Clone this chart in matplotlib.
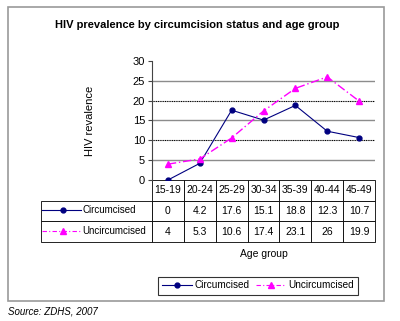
import numpy as np
import matplotlib
matplotlib.use('Agg')
import matplotlib.pyplot as plt
from matplotlib.lines import Line2D
from matplotlib.patches import Rectangle

# data
age_groups = ['15-19', '20-24', '25-29', '30-34', '35-39', '40-44', '45-49']
circumcised = [0, 4.2, 17.6, 15.1, 18.8, 12.3, 10.7]
uncircumcised = [4, 5.3, 10.6, 17.4, 23.1, 26, 19.9]
y_ticks = [0, 5, 10, 15, 20, 25, 30]

NARROW = ['Liberation Sans Narrow', 'Liberation Sans', 'DejaVu Sans']
plt.rcParams['font.family'] = NARROW

C_COL = '#000080'
U_COL = '#FF00FF'

fig = plt.figure(figsize=(4.0, 3.21), dpi=100)
W, H = 400.0, 321.0

# outer frame
fig.patches.append(Rectangle((8 / W, 1 - 301 / H), 376 / W, 294 / H,
                             transform=fig.transFigure, fill=False,
                             edgecolor='#9a9a9a', linewidth=1.2))

fig.text(197 / W, 1 - 25 / H, 'HIV prevalence by circumcision status and age group',
         ha='center', va='center', fontsize=8, fontweight='bold')

ax = fig.add_axes([152 / W, 1 - 180 / H, 223 / W, 119 / H])
x = np.arange(len(age_groups))
ax.plot(x, circumcised, color=C_COL, lw=0.8, marker='o', ms=3.5, zorder=3)
ax.plot(x, uncircumcised, color=U_COL, lw=1.0, ls=(0, (6, 2, 1, 2)),
        marker='^', ms=4.5, zorder=3)

ax.set_xlim(-0.5, len(age_groups) - 0.5)
ax.set_ylim(0, 30)
ax.set_yticks(y_ticks)
ax.set_xticks([])
for yv in y_ticks[1:-1]:
    if yv % 10 == 0:
        ax.axhline(yv, color='black', lw=0.8, ls=(0, (1, 0.6)), zorder=1)
    else:
        ax.axhline(yv, color='#8c8c8c', lw=1.0, zorder=1)
for s in ['top', 'right', 'bottom']:
    ax.spines[s].set_visible(False)
ax.spines['left'].set_color('#444444')
ax.spines['left'].set_linewidth(0.8)
ax.tick_params(axis='y', length=3, width=0.8, color='#444444', labelsize=8, pad=2)
ax.set_ylabel('HIV revalence', fontsize=8, labelpad=2)
ax.yaxis.set_label_coords(-0.256, 0.5)

# data table under the axes
rows = [[''] + age_groups,
        [''] + [f'{v:g}' for v in circumcised],
        [''] + [f'{v:g}' for v in uncircumcised]]
first_w = 111.0
col_w = [first_w] + [223.0 / len(age_groups)] * len(age_groups)
tbl = ax.table(cellText=rows, colWidths=[c / sum(col_w) for c in col_w],
               cellLoc='center', bbox=[-111 / 223, -62 / 119, 334 / 223, 62 / 119])
tbl.auto_set_font_size(False)
tbl.set_fontsize(7.5)
for (r, c), cell in tbl.get_celld().items():
    cell.set_edgecolor('black')
    cell.set_linewidth(0.6)
    cell.get_text().set_fontfamily(NARROW)
    if r == 0 and c == 0:
        cell.set_visible(False)

# legend keys inside the table
key_rows = [(circumcised, 'Circumcised', C_COL, '-', 'o', 3.5, -0.252),
            (uncircumcised, 'Uncircumcised', U_COL, (0, (4, 2, 1, 2)), '^', 4.5, -0.429)]
for _, label, col, ls, mk, ms, yy in key_rows:
    ax.add_line(Line2D([-0.493, -0.318], [yy, yy], transform=ax.transAxes,
                       color=col, lw=0.8, ls=ls, clip_on=False))
    ax.add_line(Line2D([-0.399], [yy], transform=ax.transAxes, color=col,
                       marker=mk, ms=ms, clip_on=False))
    ax.text(-0.312, yy, label, transform=ax.transAxes, ha='left', va='center',
            fontsize=7)

fig.text(264 / W, 1 - 254 / H, 'Age group', ha='center', va='center', fontsize=7.5)

handles = [Line2D([], [], color=C_COL, lw=0.8, marker='o', ms=3.5),
           Line2D([], [], color=U_COL, lw=0.8, ls=(0, (4, 2, 1, 2)), marker='^', ms=4.5)]
leg = fig.legend(handles, ['Circumcised', 'Uncircumcised'], loc='center',
                 bbox_to_anchor=(258 / W, 1 - 285.5 / H), ncol=2, fontsize=7.2,
                 frameon=True, fancybox=False, edgecolor='black', handlelength=3.0,
                 columnspacing=0.7, handletextpad=0.2, borderpad=0.4)
leg.get_frame().set_linewidth(0.8)

fig.text(8 / W, 1 - 311 / H, 'Source: ZDHS, 2007', ha='left', va='center',
         fontsize=7, style='italic', family=['Liberation Sans', 'DejaVu Sans'])

fig.savefig('out.png', dpi=100, facecolor='white')
